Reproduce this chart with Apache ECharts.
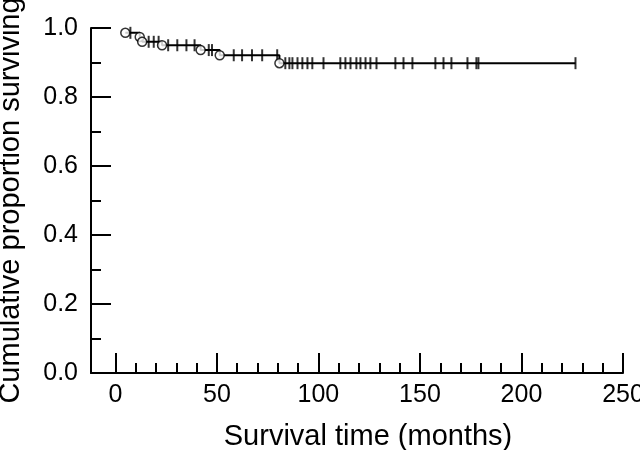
<!DOCTYPE html>
<html>
<head>
<meta charset="utf-8">
<script src="https://cdn.jsdelivr.net/npm/echarts@6/dist/echarts.min.js"></script>
<style>
html,body{margin:0;padding:0;background:#fff;}
#chart{width:640px;height:450px;}
</style>
</head>
<body>
<div id="chart"></div>
<script>
// Kaplan-Meier data
var eventTimes = [4.9, 12.0, 13.2, 23.0, 42.0, 51.4, 80.8];
var eventSurv  = [0.986, 0.974, 0.960, 0.950, 0.936, 0.921, 0.898];
var censorTimes = [7.4, 16.4, 18.9, 21.3, 26.0, 30.5, 35.0, 39.0, 46.0, 47.6,
  58.3, 62.4, 67.3, 72.3, 79.7, 83.7, 85.7, 87.2, 89.7, 92.1, 94.6, 97.0,
  102.5, 110.8, 113.3, 115.8, 118.7, 120.7, 123.2, 125.6, 128.6, 137.9,
  141.9, 146.3, 157.6, 161.6, 165.5, 173.4, 177.8, 178.8, 226.6];
var xMajorTicks = [0, 50, 100, 150, 200, 250];
var xMinorTicks = [10, 20, 30, 40, 60, 70, 80, 90, 110, 120, 130, 140, 160, 170, 180, 190, 210, 220, 230, 240];
var yTicks = [0, 0.2, 0.4, 0.6, 0.8, 1.0];

function levelAt(t) {
  var s = eventSurv[0];
  for (var i = 0; i < eventTimes.length; i++) {
    if (eventTimes[i] <= t) s = eventSurv[i];
  }
  return s;
}

var lineData = [];
for (var i = 0; i < eventTimes.length; i++) lineData.push([eventTimes[i], eventSurv[i]]);
var lastT = censorTimes[censorTimes.length - 1];
lineData.push([lastT, levelAt(lastT)]);

var eventData = eventTimes.map(function (t, i) { return [t, eventSurv[i]]; });
var censorData = censorTimes.map(function (t) { return [t, levelAt(t)]; });

var font = 'Liberation Sans, Arial, Helvetica, sans-serif';
var chart = echarts.init(document.getElementById('chart'), null, {renderer: 'canvas'});
chart.setOption({
  animation: false,
  backgroundColor: '#fff',
  grid: {left: 91, right: 17, top: 28, bottom: 77, containLabel: false, outerBoundsMode: 'none'},
  xAxis: [{
    type: 'value', min: -12, max: 250, position: 'bottom',
    name: 'Survival time (months)', nameLocation: 'middle', nameGap: 49,
    nameTextStyle: {fontFamily: font, fontSize: 29, color: '#000', padding: [0, 0, 0, 22]},
    axisLine: {show: true, onZero: false, lineStyle: {color: '#000', width: 2}},
    axisTick: {show: true, inside: true, length: 20, customValues: xMajorTicks, lineStyle: {color: '#000', width: 2}},
    axisLabel: {show: true, customValues: xMajorTicks, margin: 10, fontFamily: font, fontSize: 25, color: '#000'},
    splitLine: {show: false}
  }, {
    type: 'value', min: -12, max: 250, position: 'bottom',
    axisLine: {show: false, onZero: false},
    axisTick: {show: true, inside: true, length: 10, customValues: xMinorTicks, lineStyle: {color: '#000', width: 2}},
    axisLabel: {show: false},
    splitLine: {show: false}
  }],
  yAxis: {
    type: 'value', min: 0, max: 1, interval: 0.2,
    name: 'Cumulative proportion surviving', nameLocation: 'middle', nameGap: 66,
    nameTextStyle: {fontFamily: font, fontSize: 29, color: '#000'},
    axisLine: {show: true, onZero: false, lineStyle: {color: '#000', width: 2}},
    axisTick: {show: true, inside: true, length: 20, lineStyle: {color: '#000', width: 2}},
    minorTick: {show: true, splitNumber: 2, length: 10, lineStyle: {color: '#000', width: 2}},
    axisLabel: {show: true, margin: 13, fontFamily: font, fontSize: 25, color: '#000',
      formatter: function (v) { return v.toFixed(1); }},
    splitLine: {show: false}
  },
  series: [{
    type: 'line', step: 'end', data: lineData, showSymbol: false, symbol: 'none',
    lineStyle: {color: '#000', width: 2}, silent: true
  }, {
    type: 'scatter', data: censorData, symbol: 'rect', symbolSize: [2, 12],
    itemStyle: {color: '#000'}, silent: true
  }, {
    type: 'scatter', data: eventData, symbol: 'circle', symbolSize: 9,
    itemStyle: {color: '#fff', borderColor: '#000', borderWidth: 1.5}, silent: true, z: 5
  }]
});
</script>
</body>
</html>
